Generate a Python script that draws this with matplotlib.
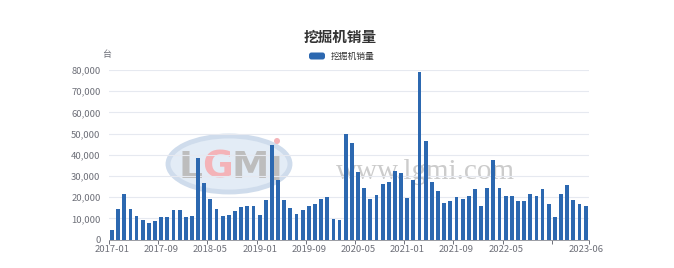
import matplotlib
matplotlib.use("Agg")
import matplotlib.pyplot as plt
from matplotlib.patches import Ellipse, FancyBboxPatch
from matplotlib.ticker import FixedLocator, FuncFormatter
import numpy as np
import pandas as pd

plt.rcParams['font.family'] = ['Noto Sans CJK SC', 'DejaVu Sans']

# monthly sales, 2017-01 .. 2023-06 (units)
months = pd.period_range("2017-01", "2023-06", freq="M").strftime("%Y-%m").tolist()
sales = [4600, 14600, 21500, 14400, 11200, 9000, 7700, 8800, 10500, 10600, 13900, 14100,
         10800, 11200, 38300, 26800, 19300, 14300, 11200, 11600, 13600, 15400, 15900, 16000,
         11700, 18500, 44500, 28300, 18800, 15000, 12200, 13700, 15600, 16900, 19300, 20100,
         9800, 9300, 49600, 45700, 31800, 24500, 19100, 20900, 26100, 27200, 32200, 31400,
         19600, 28300, 79000, 46600, 27200, 22900, 17400, 18200, 20100, 19000, 20400, 24000,
         15600, 24500, 37300, 24500, 20500, 20500, 18000, 18200, 21300, 20400, 23700, 16900,
         10400, 21300, 25600, 18800, 16900, 15800]
label_months = ["2017-01", "2017-09", "2018-05", "2019-01", "2019-09", "2020-05",
                "2021-01", "2021-09", "2022-05", "2023-06"]
tick_months = ["2017-01", "2017-09", "2018-05", "2019-01", "2019-09", "2020-05",
               "2021-01", "2021-09", "2022-05", "2023-01"]
series_name = "挖掘机销量"

W, H = 674, 268
fig = plt.figure(figsize=(W / 100, H / 100), dpi=100)
ax = fig.add_axes([108.9 / W, 1 - 239.5 / H, (588.7 - 108.9) / W, (239.5 - 70) / H])

# watermark (behind the bars)
wm = fig.add_axes([0, 0, 1, 1], zorder=0)
wm.set_xlim(0, W)
wm.set_ylim(H, 0)
wm.axis("off")
wm.add_patch(Ellipse((229, 164), 122, 56, facecolor="#e3ecf6", edgecolor="#cfdcec", lw=3.5))
wm.text(191, 168, "L", fontsize=27, color="#bdbdbd", ha="center", va="center",
        fontweight="bold", family="DejaVu Sans")
wm.text(217, 168, "G", fontsize=27, color="#f4b3b8", ha="center", va="center",
        fontweight="bold", family="DejaVu Sans")
wm.text(250, 168, "M", fontsize=27, color="#bdbdbd", ha="center", va="center",
        fontweight="bold", family="DejaVu Sans")
wm.text(276, 170, "I", fontsize=24, color="#bdbdbd", ha="center", va="center",
        fontweight="bold", family="DejaVu Sans")
wm.add_patch(Ellipse((277, 141), 6, 6, facecolor="#f4b3b8", edgecolor="none"))
wm.text(425, 172, "www.lgmi.com", fontsize=21, color="#cccccc", ha="center", va="center",
        family="Liberation Serif")

ax.set_zorder(1)
ax.patch.set_alpha(0)
x = np.arange(len(months))
ax.bar(x, sales, width=0.62, color="#2c68b0", zorder=3)

ax.set_xlim(-0.5, len(months) - 0.5)
ax.set_ylim(0, 80000)
ax.set_yticks(np.arange(0, 80001, 10000))
ax.yaxis.set_major_formatter(FuncFormatter(lambda v, p: f"{int(v):,}"))
ax.grid(axis="y", color="#e6e9f0", lw=0.8, zorder=0)

ax.set_xticks([months.index(m) for m in label_months])
ax.set_xticklabels(label_months)
ax.xaxis.set_minor_locator(FixedLocator([months.index(m) - 0.5 for m in tick_months] + [len(months) - 0.5]))
ax.tick_params(axis="x", which="major", length=0, pad=4, labelsize=6.8, labelcolor="#6e7079")
ax.tick_params(axis="x", which="minor", length=3, color="#6e7079", width=0.7)
ax.tick_params(axis="y", length=0, pad=6, labelsize=6.8, labelcolor="#6e7079")

for s in ["top", "right", "left"]:
    ax.spines[s].set_visible(False)
ax.spines["bottom"].set_color("#9a9ca3")
ax.spines["bottom"].set_linewidth(0.7)

fig.text(340 / W, 1 - 37 / H, series_name, ha="center", va="center", fontsize=10.5,
         fontweight="bold", color="#333333")
fig.text(107 / W, 1 - 55 / H, "台", ha="center", va="center", fontsize=6.5, color="#6e7079")
leg = fig.add_axes([0, 0, 1, 1], zorder=2)
leg.set_xlim(0, W)
leg.set_ylim(H, 0)
leg.axis("off")
leg.add_patch(FancyBboxPatch((309, 52.5), 16, 7, boxstyle="round,pad=0,rounding_size=2.5",
                             facecolor="#2c68b0", edgecolor="none"))
leg.text(331, 56, series_name, ha="left", va="center", fontsize=6.3, color="#333333")

fig.savefig("out.png", dpi=100)
